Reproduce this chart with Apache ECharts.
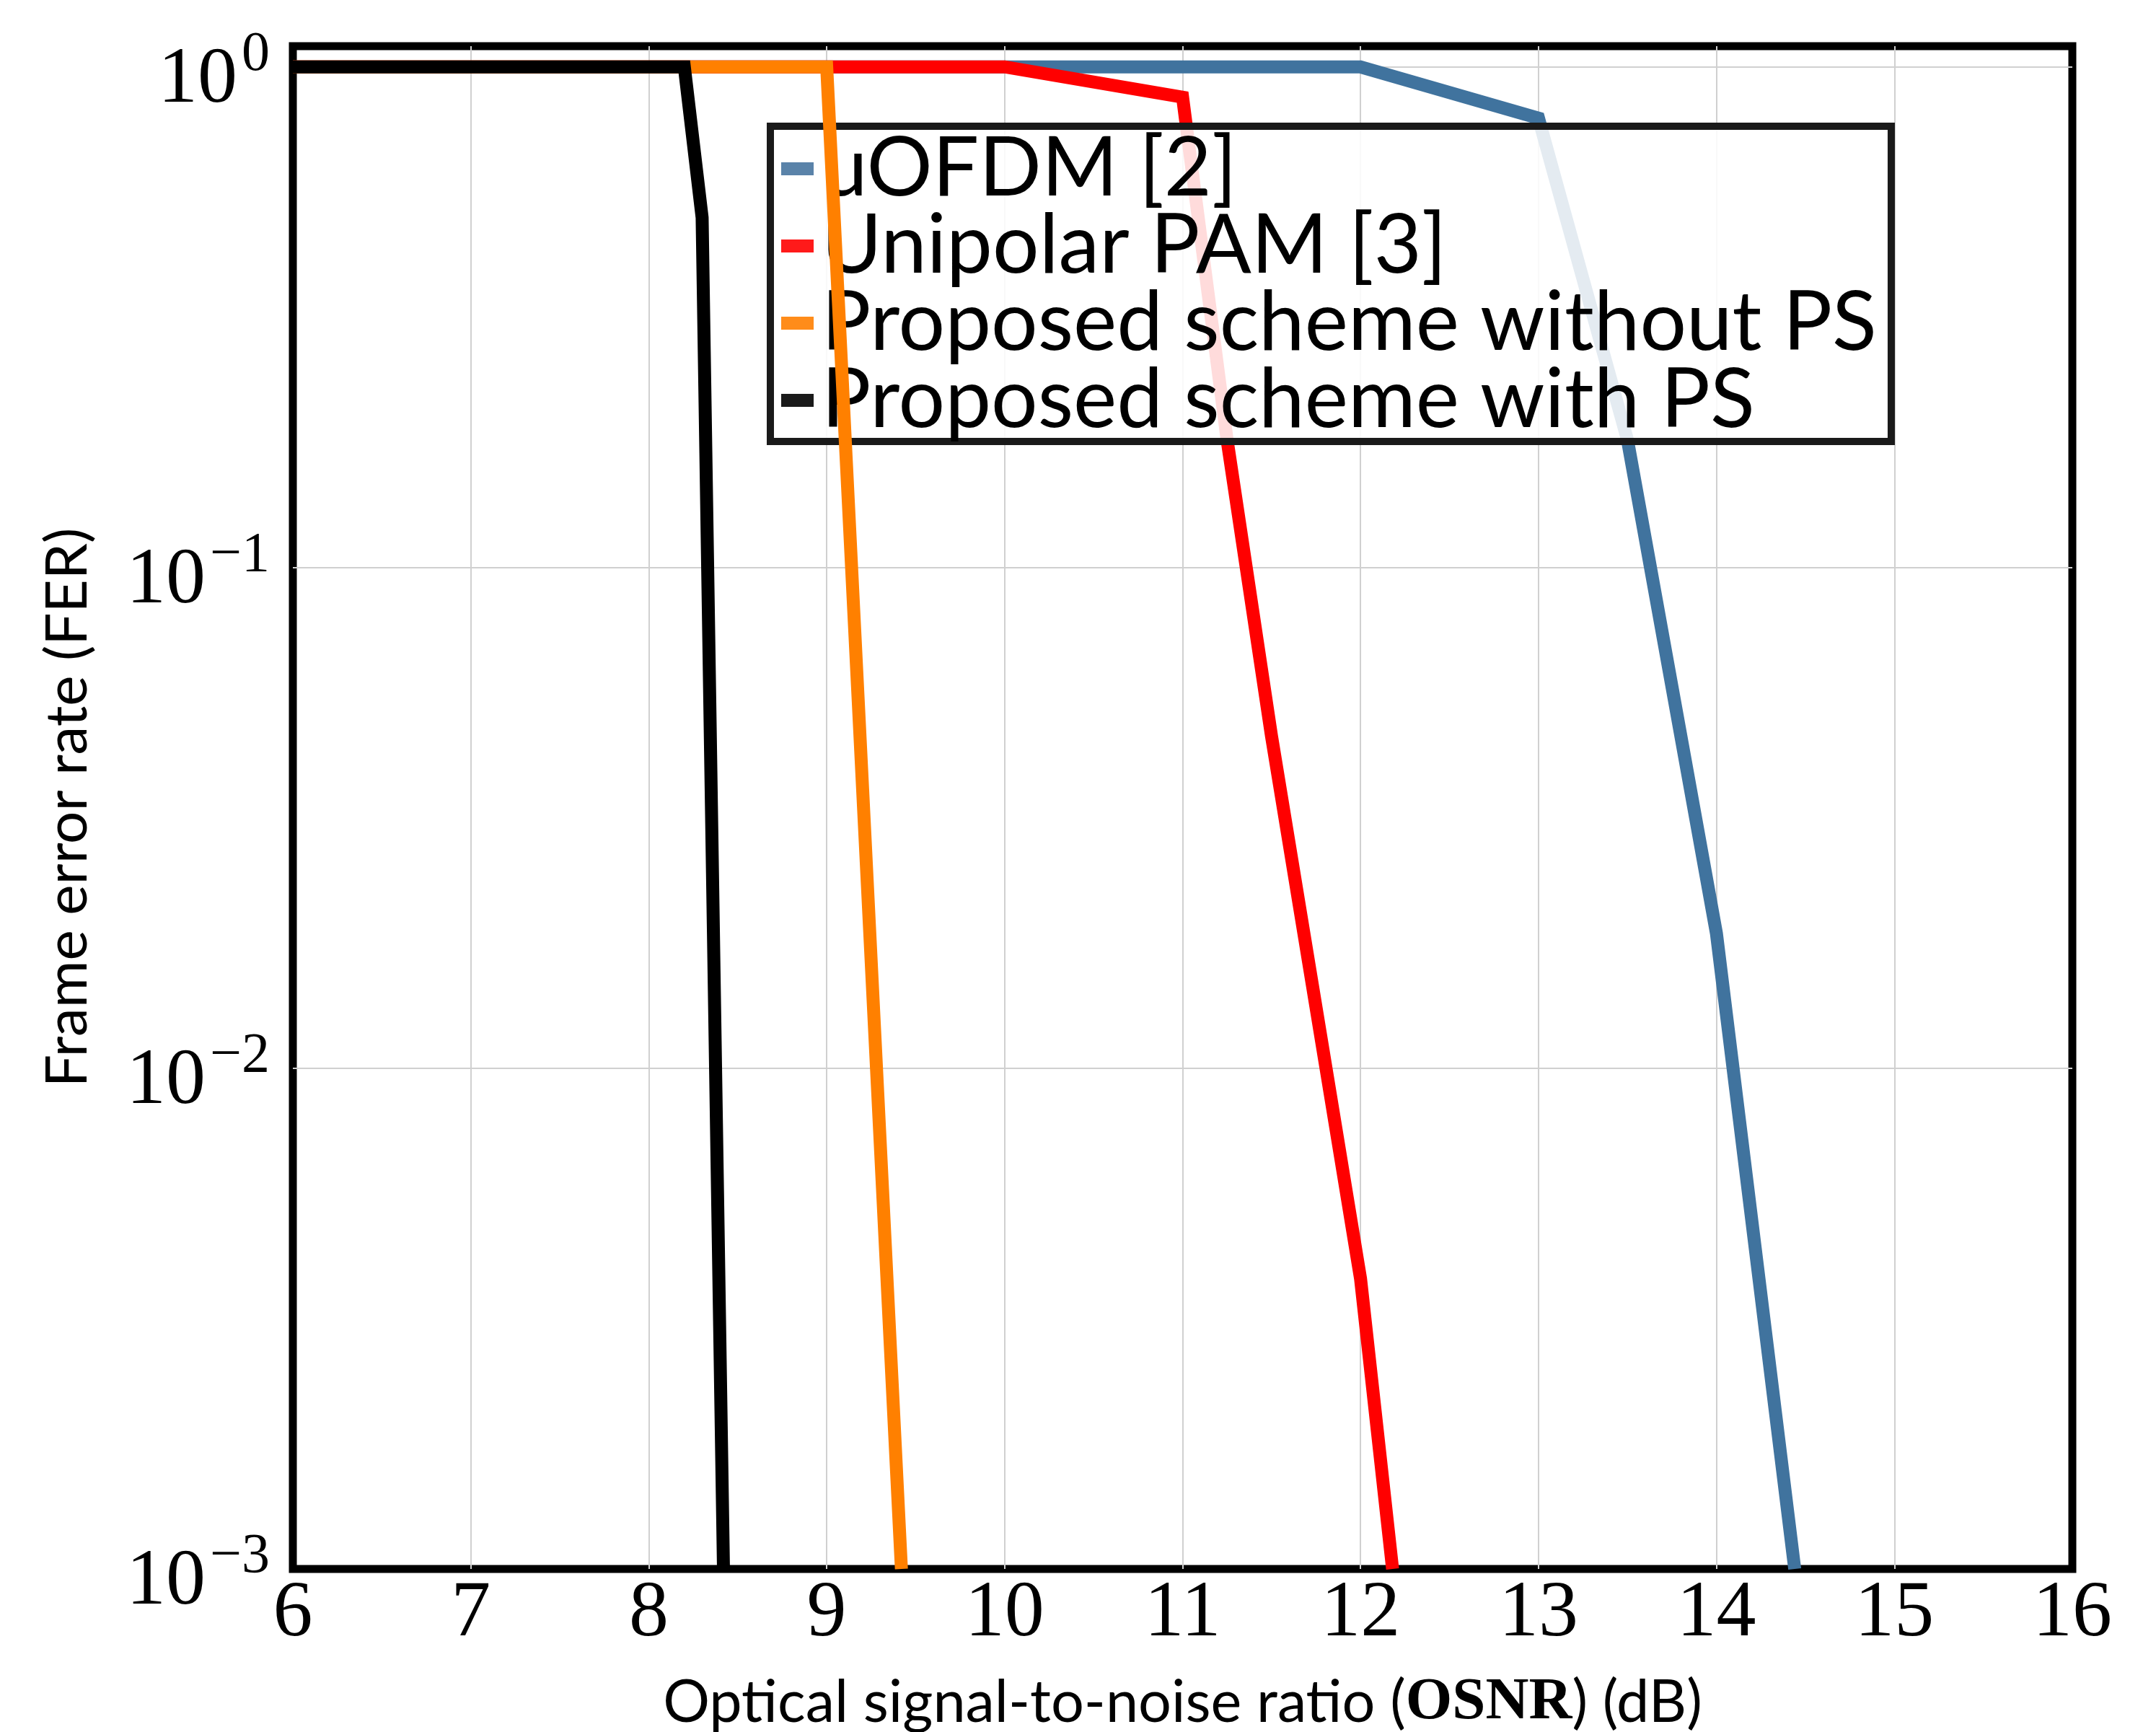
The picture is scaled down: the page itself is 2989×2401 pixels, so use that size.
<!DOCTYPE html>
<html>
<head>
<meta charset="utf-8">
<script src="https://cdn.jsdelivr.net/npm/echarts@6/dist/echarts.min.js"></script>
<style>
  html, body { margin: 0; padding: 0; background: #fff; }
</style>
</head>
<body>
<div id="FerChart" style="width: 2989px; height: 2401px"></div>
<script>
// legend names
const seriesNames = [
  "uOFDM [2]",
  "Unipolar PAM [3]",
  "Proposed scheme without PS",
  "Proposed scheme with PS",
];

// OSNR (dB) / FER
const osnrUofdm = [6, 12, 13, 13.5, 14, 14.44];
const ferUofdm = [1, 1, 0.79, 0.18, 0.0186, 0.001];

const osnrPam = [6, 10, 11, 11.25, 11.5, 12, 12.18];
const ferPam = [1, 1, 0.87, 0.18, 0.046, 0.0038, 0.001];

const osnrNoPs = [6, 9, 9.42];
const ferNoPs = [1, 1, 0.001];

const osnrPs = [6, 8.2, 8.3, 8.42];
const ferPs = [1, 1, 0.5, 0.001];

// x tick labels
const xTicks = [6, 7, 8, 9, 10, 11, 12, 13, 14, 15, 16];

const lineColors = ["#40739e", "#ff0000", "#ff8000", "#000000"];
const iconColors = ["#5a83a9", "#ff1a1a", "#ff8c1a", "#1a1a1a"];

function pairs(xs, ys) {
  return xs.map((x, i) => [x, ys[i]]);
}

let chart = echarts.init(document.getElementById("FerChart"));

let option = {
  animation: false,
  backgroundColor: "#fff",
  grid: {
    left: 406,
    right: 116,
    top: 64,
    bottom: 226,
    outerBoundsMode: "none", // keep the plot box fixed
    containLabel: false,
    show: true,
    borderColor: "#000",
    borderWidth: 11,
  },
  legend: {
    orient: "vertical",
    align: "left",
    left: 1068,
    top: 175,
    padding: [2, 20, 0, 15],
    itemGap: -7,
    icon: "rect",
    itemWidth: 45,
    itemHeight: 18,
    backgroundColor: "rgba(255,255,255,0.86)",
    borderColor: "#1a1a1a",
    borderWidth: 10,
    textStyle: {
      fontFamily: "Lato",
      fontSize: 114,
      color: "#000",
      padding: [0, 0, 0, 6],
    },
    data: seriesNames.map((n, i) => ({ name: n, itemStyle: { color: iconColors[i] } })),
  },
  xAxis: {
    type: "value",
    min: 6,
    max: 16,
    interval: 1,
    name: "Optical signal-to-noise ratio ({b|OSNR}) (dB)",
    nameLocation: "middle",
    nameGap: 144,
    nameTextStyle: {
      fontFamily: "Lato",
      fontSize: 81,
      color: "#000",
      rich: {
        b: { fontFamily: "Liberation Serif", fontWeight: "bold", fontSize: 83, color: "#000" },
      },
    },
    axisLine: { show: false },
    axisTick: { show: false },
    axisLabel: {
      margin: 8,
      fontFamily: "Liberation Serif",
      fontSize: 110,
      color: "#000",
      formatter: (v) => (xTicks.indexOf(v) >= 0 ? String(v) : ""),
    },
    splitLine: {
      show: true,
      showMinLine: false,
      showMaxLine: false,
      lineStyle: { color: "#d0d0d0", width: 2 },
    },
  },
  yAxis: {
    type: "log",
    logBase: 10,
    min: 0.001,
    max: 1.1,
    name: "Frame error rate (FER)",
    nameLocation: "middle",
    nameGap: 272,
    nameTextStyle: { fontFamily: "Lato", fontSize: 80, color: "#000" },
    axisLine: { show: false },
    axisTick: { show: false },
    axisLabel: {
      margin: 32,
      padding: [19, 0, 0, 0],
      formatter: (v) => {
        let e = Math.log10(v);
        if (Math.abs(e - Math.round(e)) > 1e-6) return "";
        e = Math.round(e);
        let sup = e < 0 ? "\u2212" + -e : String(e);
        return "{m|10}{s|" + sup + "}";
      },
      rich: {
        m: {
          fontFamily: "Liberation Serif",
          fontSize: 110,
          lineHeight: 130,
          verticalAlign: "bottom",
          color: "#000",
        },
        s: {
          fontFamily: "Liberation Serif",
          fontSize: 78,
          lineHeight: 70,
          verticalAlign: "top",
          color: "#000",
          padding: [0, 0, 0, 6],
        },
      },
    },
    splitLine: {
      show: true,
      showMinLine: false,
      showMaxLine: false,
      lineStyle: { color: "#d0d0d0", width: 2 },
    },
  },
  series: [
    { data: pairs(osnrUofdm, ferUofdm) },
    { data: pairs(osnrPam, ferPam) },
    { data: pairs(osnrNoPs, ferNoPs) },
    { data: pairs(osnrPs, ferPs) },
  ].map((s, i) => ({
    name: seriesNames[i],
    type: "line",
    data: s.data,
    showSymbol: false,
    symbol: "none",
    color: lineColors[i],
    lineStyle: { color: lineColors[i], width: 18, join: "miter" },
    z: 2 + i,
  })),
};

chart.setOption(option);
</script>
</body>
</html>
